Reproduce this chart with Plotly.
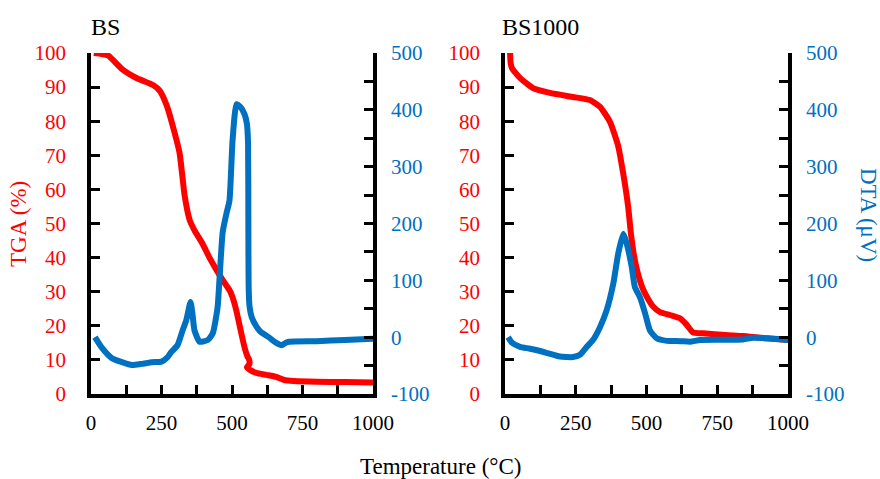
import plotly.graph_objects as go

# ---------------- data ----------------
# BS
bs_tga_T = [10, 60, 110, 163, 220, 244, 269, 290, 314, 332, 350, 367, 396, 420, 445, 470, 491, 502, 515, 533,
            545, 555, 561, 562, 553, 565, 586, 622, 657, 685, 720, 800, 900, 1000]
bs_tga_v = [100, 99.3, 95.3, 92.6, 90.6, 88.9, 84.5, 78.6, 70.7, 58.2, 51, 48, 44, 40, 36.4, 33, 30.5, 28.4, 24.6, 17.8,
            13.5, 11, 10, 8.8, 7.8, 7, 6.2, 5.6, 5, 4.1, 3.8, 3.6, 3.5, 3.4]

bs_dta_T = [14, 39, 74, 110, 145, 180, 216, 250, 270, 285, 307, 325, 338, 353, 360, 367, 385, 414, 432, 449,
            456, 467, 480, 491, 502, 516, 530, 544, 553, 557, 558, 559, 562, 570, 585, 600, 630, 657, 678, 690,
            703, 800, 900, 1000]
bs_dta_v = [0, -19, -37, -44, -49, -47, -44, -43, -36, -26, -14, 12, 30, 62, 40, 12, -8, -5, 7, 53,
            105, 185, 217, 240, 346, 410, 405, 393, 375, 340, 200, 90, 55, 35, 20, 10, 0, -10, -14, -10,
            -8, -7, -5, -3]

# BS1000
bs1000_tga_T = [18, 20, 25, 53, 99, 159, 240, 300, 336, 371, 399, 417, 435, 445, 455, 466, 484, 502, 525, 548,
                590, 618, 640, 664, 700, 780, 841, 901, 1000]
bs1000_tga_v = [100, 97, 95.5, 92.7, 89.7, 88.3, 87.1, 86.2, 84.2, 79.8, 73, 65, 55, 47, 41, 36.5, 31.5, 28.4, 25.5, 24,
                23, 22.2, 20.5, 18.1, 17.8, 17.3, 17, 16.5, 15.8]

bs1000_dta_T = [11, 25, 53, 85, 113, 150, 194, 240, 265, 289, 311, 336, 359, 383, 400, 418, 430, 448, 459, 477,
                495, 512, 536, 572, 620, 654, 689, 760, 841, 877, 930, 1000]
bs1000_dta_v = [0, -10, -17, -20, -23, -28, -34, -35, -31, -17, -5, 18, 47, 95, 147, 182, 165, 123, 88, 70,
                42, 12, -2, -6.5, -7, -8, -5, -4.5, -4, -1, -2, -5]

x_tickvals = [0, 125, 250, 375, 500, 625, 750, 875, 1000]
x_ticktext = ["0", "", "250", "", "500", "", "750", "", "1000"]
tga_tickvals = [0, 10, 20, 30, 40, 50, 60, 70, 80, 90, 100]
dta_tickvals = [-100, -50, 0, 50, 100, 150, 200, 250, 300, 350, 400, 450, 500]
dta_ticktext = ["-100", "", "0", "", "100", "", "200", "", "300", "", "400", "", "500"]

RED = "#FF0000"
BLUE = "#0070C0"
FONT = "Times New Roman, Liberation Serif, serif"
W, H = 880, 479

def line(color):
    return dict(color=color, width=6, shape="spline", smoothing=0.5)

fig = go.Figure()
fig.add_trace(go.Scatter(x=bs_tga_T, y=bs_tga_v, mode="lines", line=line(RED), xaxis="x", yaxis="y"))
fig.add_trace(go.Scatter(x=bs_dta_T, y=bs_dta_v, mode="lines", line=line(BLUE), xaxis="x", yaxis="y2"))
fig.add_trace(go.Scatter(x=bs1000_tga_T, y=bs1000_tga_v, mode="lines", line=line(RED), xaxis="x2", yaxis="y3"))
fig.add_trace(go.Scatter(x=bs1000_dta_T, y=bs1000_dta_v, mode="lines", line=line(BLUE), xaxis="x2", yaxis="y4"))

ydom = [1 - 394 / H, 1 - 53 / H]
xd1 = [91 / W, 373 / W]
xd2 = [505 / W, 788 / W]

common = dict(showgrid=False, zeroline=False, showline=True, linecolor="black", linewidth=3.5,
              ticks="inside", ticklen=9, tickwidth=3, tickcolor="black", automargin=False)

def xax(dom, anchor):
    return dict(domain=dom, anchor=anchor, range=[0, 1000], tickvals=x_tickvals, ticktext=x_ticktext,
                tickfont=dict(color="black", size=21, family=FONT), ticklabelstandoff=7, **common)

def tga(anchor):
    return dict(domain=ydom, anchor=anchor, range=[0, 100], tickvals=tga_tickvals,
                tickfont=dict(color=RED, size=21, family=FONT), ticklabelstandoff=17, **common)

def dta(anchor, over):
    return dict(overlaying=over, side="right", anchor=anchor, range=[-100, 500], tickvals=dta_tickvals,
                ticktext=dta_ticktext, tickfont=dict(color=BLUE, size=21, family=FONT), ticklabelstandoff=10, **common)

fig.update_layout(
    width=W, height=H, margin=dict(l=0, r=0, t=0, b=0, pad=0, autoexpand=False),
    paper_bgcolor="white", plot_bgcolor="white", showlegend=False,
    font=dict(family=FONT, size=21, color="black"),
    xaxis=xax(xd1, "y"), yaxis=tga("x"), yaxis2=dta("x", "y"),
    xaxis2=xax(xd2, "y3"), yaxis3=tga("x2"), yaxis4=dta("x2", "y3"),
    annotations=[
        dict(text="BS", x=89 / W, y=1 - 27 / H, xref="paper", yref="paper", xanchor="left", yanchor="middle",
             showarrow=False, font=dict(size=24, family=FONT, color="black")),
        dict(text="BS1000", x=500 / W, y=1 - 27 / H, xref="paper", yref="paper", xanchor="left", yanchor="middle",
             showarrow=False, font=dict(size=24, family=FONT, color="black")),
        dict(text="Temperature (°C)", x=440 / W, y=1 - 466 / H, xref="paper", yref="paper", xanchor="center",
             yanchor="middle", showarrow=False, font=dict(size=23, family=FONT, color="black")),
        dict(text="TGA (%)", x=18 / W, y=1 - 224 / H, xref="paper", yref="paper", xanchor="center",
             yanchor="middle", textangle=-90, showarrow=False, font=dict(size=23, family=FONT, color=RED)),
        dict(text="DTA (μV)", x=868 / W, y=1 - 215 / H, xref="paper", yref="paper", xanchor="center",
             yanchor="middle", textangle=90, showarrow=False, font=dict(size=23, family=FONT, color=BLUE)),
    ],
)

fig.write_html("out.html", config={"displayModeBar": False},
               post_script="document.body.style.margin='0px';document.body.style.padding='0px';")
